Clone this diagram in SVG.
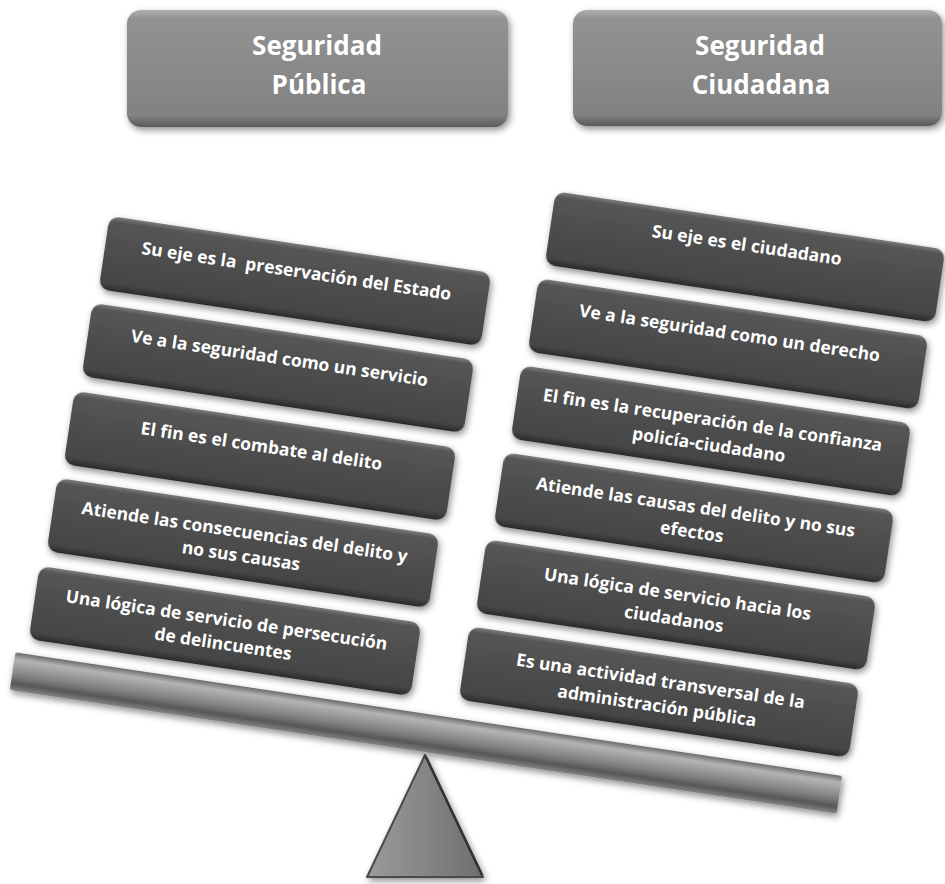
<svg xmlns="http://www.w3.org/2000/svg" width="945" height="884" viewBox="0 0 945 884">
<defs>
<linearGradient id="gBox" x1="0" y1="0" x2="0" y2="1">
<stop offset="0" stop-color="#7c7c7c"/>
<stop offset="0.07" stop-color="#555555"/>
<stop offset="0.5" stop-color="#4d4d4d"/>
<stop offset="0.9" stop-color="#454545"/>
<stop offset="1" stop-color="#2a2a2a"/>
</linearGradient>
<linearGradient id="gHead" x1="0" y1="0" x2="0" y2="1">
<stop offset="0" stop-color="#b0b0b0"/>
<stop offset="0.07" stop-color="#929292"/>
<stop offset="0.5" stop-color="#8a8a8a"/>
<stop offset="0.9" stop-color="#828282"/>
<stop offset="1" stop-color="#5a5a5a"/>
</linearGradient>
<linearGradient id="gBeam" x1="0" y1="0" x2="0" y2="1">
<stop offset="0" stop-color="#6a6a6a"/>
<stop offset="0.18" stop-color="#b4b4b4"/>
<stop offset="0.4" stop-color="#999999"/>
<stop offset="0.62" stop-color="#7c7c7c"/>
<stop offset="0.82" stop-color="#575757"/>
<stop offset="1" stop-color="#828282"/>
</linearGradient>
<linearGradient id="gTri" x1="0" y1="0" x2="1" y2="0">
<stop offset="0" stop-color="#9a9a9a"/>
<stop offset="0.5" stop-color="#858585"/>
<stop offset="1" stop-color="#6e6e6e"/>
</linearGradient>
<filter id="sh" x="-10%" y="-30%" width="120%" height="160%">
<feGaussianBlur in="SourceAlpha" stdDeviation="3.5"/>
<feOffset dx="2" dy="3" result="b"/>
<feComponentTransfer><feFuncA type="linear" slope="0.45"/></feComponentTransfer>
<feMerge><feMergeNode/><feMergeNode in="SourceGraphic"/></feMerge>
</filter>
</defs>
<style>
.box{fill:url(#gBox);filter:url(#sh)}
.head{fill:url(#gHead);filter:url(#sh)}
.t{font-family:"Open Sans","Noto Sans","Liberation Sans",sans-serif;font-weight:bold;fill:#ffffff;text-anchor:middle}
.bt{font-size:17.5px}
.ht{font-size:26px}
</style>
<rect width="945" height="884" fill="#ffffff"/>

<g id="header-publica">
<rect class="head" x="127" y="10" width="381" height="117" rx="14"/>
<text class="t ht" x="317" y="55">Seguridad</text>
<text class="t ht" x="319" y="94">Pública</text>
</g>
<g id="header-ciudadana">
<rect class="head" x="573" y="10" width="369" height="116" rx="14"/>
<text class="t ht" x="760" y="55">Seguridad</text>
<text class="t ht" x="761" y="94">Ciudadana</text>
</g>

<g id="scale">
<polygon points="425,755 483,877 367,877" fill="url(#gTri)" stroke="#4a4a4a" stroke-width="2" stroke-linejoin="round" filter="url(#sh)"/>
<line x1="426" y1="757" x2="482" y2="875" stroke="#333" stroke-width="2.5"/>
<g transform="translate(426,733) rotate(8.5)">
<rect x="-418" y="-19" width="836" height="38" rx="2" fill="url(#gBeam)" filter="url(#sh)"/>
</g>
</g>

<g id="left-1" transform="translate(295,281) rotate(8.5)">
<rect class="box" x="-193" y="-37" width="386" height="74" rx="10"/>
<text class="t bt" x="0" y="-4" xml:space="preserve">Su eje es la  preservación del Estado</text>
</g>
<g id="left-2" transform="translate(278,368) rotate(8.5)">
<rect class="box" x="-193" y="-37" width="386" height="74" rx="10"/>
<text class="t bt" x="0" y="-4">Ve a la seguridad como un servicio</text>
</g>
<g id="left-3" transform="translate(260,456) rotate(8.5)">
<rect class="box" x="-193" y="-37" width="386" height="74" rx="10"/>
<text class="t bt" x="0" y="-4">El fin es el combate al delito</text>
</g>
<g id="left-4" transform="translate(243,543) rotate(8.5)">
<rect class="box" x="-193" y="-37" width="386" height="74" rx="10"/>
<text class="t bt" x="0" y="-5">Atiende las consecuencias del delito y</text>
<text class="t bt" x="0" y="19">no sus causas</text>
</g>
<g id="left-5" transform="translate(225,631) rotate(8.5)">
<rect class="box" x="-193" y="-37" width="386" height="74" rx="10"/>
<text class="t bt" x="0" y="-5">Una lógica de servicio de persecución</text>
<text class="t bt" x="0" y="19">de delincuentes</text>
</g>

<g id="right-1" transform="translate(745,257) rotate(8.5)">
<rect class="box" x="-197" y="-37" width="394" height="74" rx="10"/>
<text class="t bt" x="0" y="-6">Su eje es el ciudadano</text>
</g>
<g id="right-2" transform="translate(728,344) rotate(8.5)">
<rect class="box" x="-197" y="-37" width="394" height="74" rx="10"/>
<text class="t bt" x="0" y="-5">Ve a la seguridad como un derecho</text>
</g>
<g id="right-3" transform="translate(711,431) rotate(8.5)">
<rect class="box" x="-197" y="-37" width="394" height="74" rx="10"/>
<text class="t bt" x="0" y="-5">El fin es la recuperación de la confianza</text>
<text class="t bt" x="0" y="20">policía-ciudadano</text>
</g>
<g id="right-4" transform="translate(694,518) rotate(8.5)">
<rect class="box" x="-197" y="-37" width="394" height="74" rx="10"/>
<text class="t bt" x="0" y="-5">Atiende las causas del delito y no sus</text>
<text class="t bt" x="0" y="20">efectos</text>
</g>
<g id="right-5" transform="translate(676,605) rotate(8.5)">
<rect class="box" x="-197" y="-37" width="394" height="74" rx="10"/>
<text class="t bt" x="0" y="-5">Una lógica de servicio hacia los</text>
<text class="t bt" x="0" y="20">ciudadanos</text>
</g>
<g id="right-6" transform="translate(659,692) rotate(8.5)">
<rect class="box" x="-197" y="-37" width="394" height="74" rx="10"/>
<text class="t bt" x="0" y="-5">Es una actividad transversal de la</text>
<text class="t bt" x="0" y="20">administración pública</text>
</g>
</svg>
